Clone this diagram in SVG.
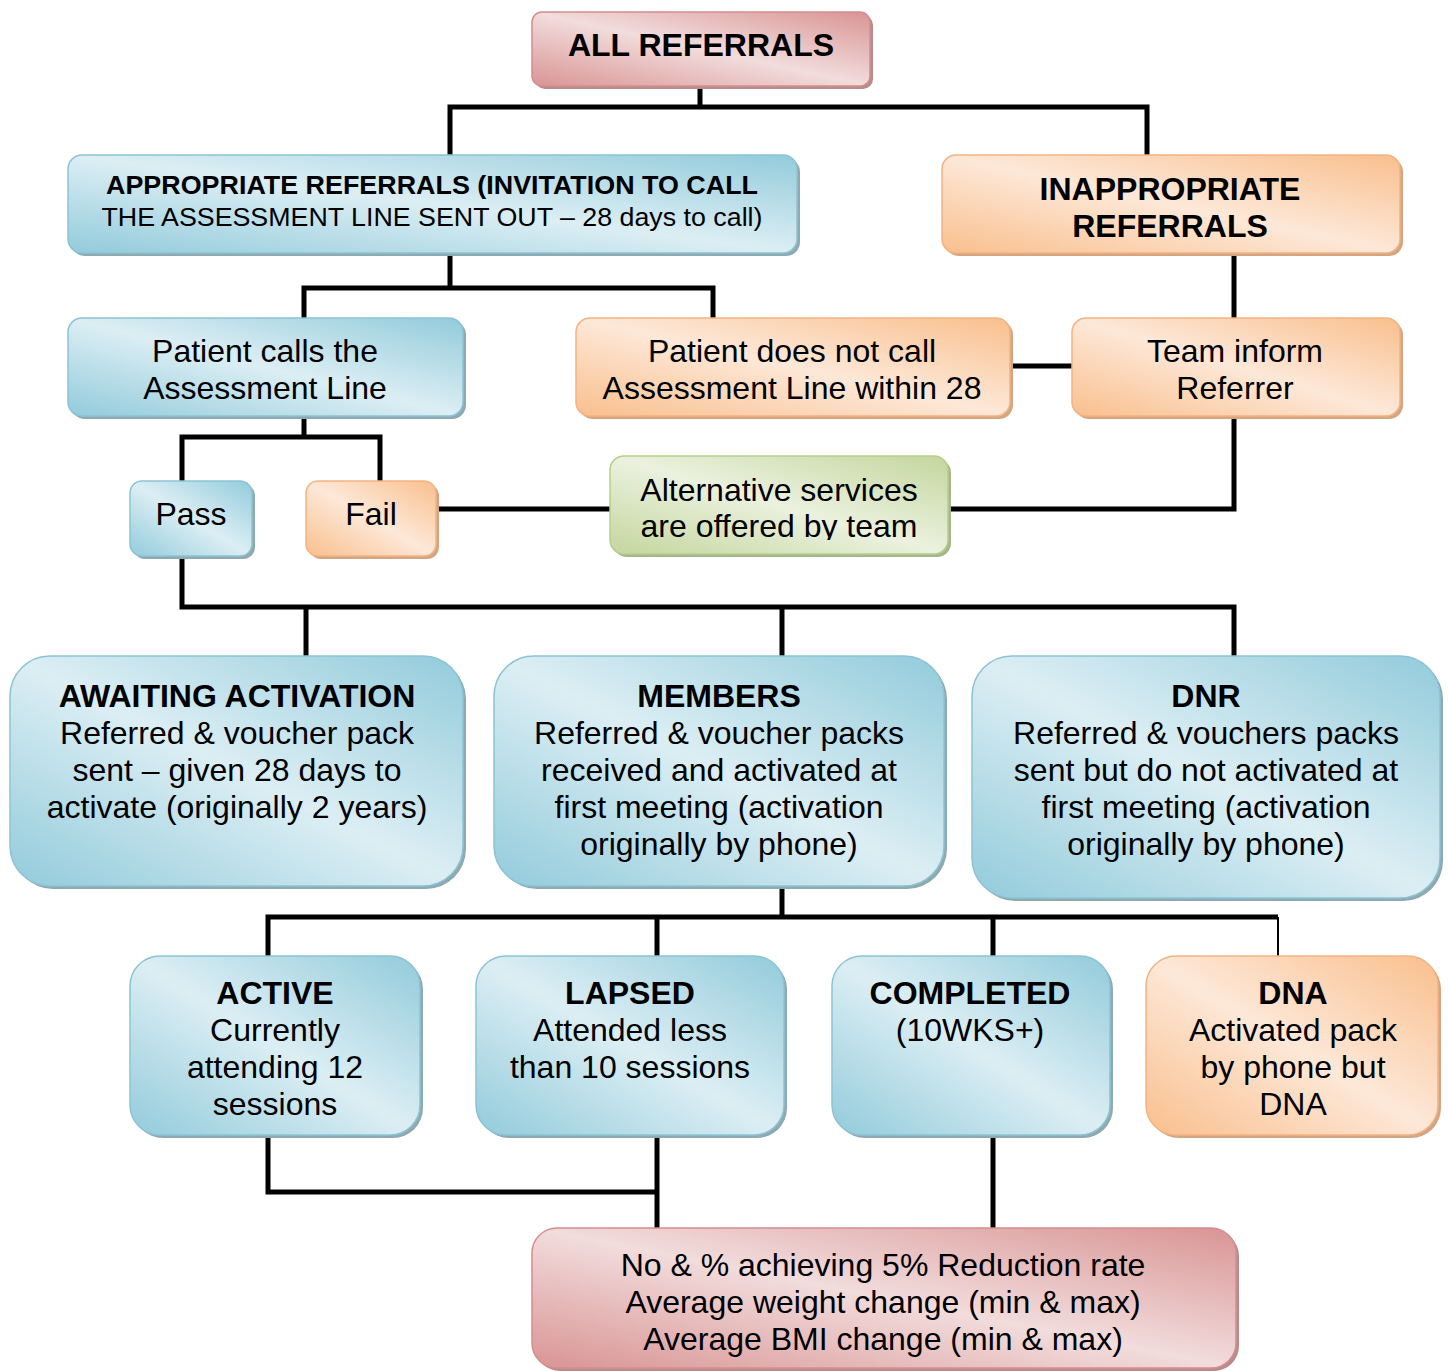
<svg xmlns="http://www.w3.org/2000/svg" width="1448" height="1371" viewBox="0 0 1448 1371">
<defs>
<linearGradient id="gBlue" x1="1" y1="0" x2="0" y2="1"><stop offset="0" stop-color="#92CBDB"/><stop offset="0.5" stop-color="#DCEEF4"/><stop offset="1" stop-color="#92CBDB"/></linearGradient>
<linearGradient id="gOrange" x1="1" y1="0" x2="0" y2="1"><stop offset="0" stop-color="#F9BF8D"/><stop offset="0.5" stop-color="#FDE8D8"/><stop offset="1" stop-color="#F9BF8D"/></linearGradient>
<linearGradient id="gPink" x1="1" y1="0" x2="0" y2="1"><stop offset="0" stop-color="#D99494"/><stop offset="0.5" stop-color="#F2DCDC"/><stop offset="1" stop-color="#D99494"/></linearGradient>
<linearGradient id="gGreen" x1="1" y1="0" x2="0" y2="1"><stop offset="0" stop-color="#C3D69D"/><stop offset="0.5" stop-color="#EBF1DE"/><stop offset="1" stop-color="#C3D69D"/></linearGradient>
<clipPath id="altClip"><rect x="600" y="440" width="360" height="100"/></clipPath>
</defs>
<style>
text{font-family:"Liberation Sans",Arial,sans-serif;font-size:32px;fill:#000;text-anchor:middle}
.b{font-weight:bold}
.s{font-size:26.7px}
.blue{fill:url(#gBlue);stroke:#8CC3D3;stroke-width:1.5}
.orange{fill:url(#gOrange);stroke:#F3B382;stroke-width:1.5}
.pink{fill:url(#gPink);stroke:#D58D8F;stroke-width:1.5}
.green{fill:url(#gGreen);stroke:#B8CE8E;stroke-width:1.5}
.shB{fill:#8FA9B2}
.shO{fill:#D3A583}
.shP{fill:#B98C8C}
.shG{fill:#A6B58C}
.ln{fill:none;stroke:#000;stroke-width:5;stroke-linejoin:miter}
.thin{fill:none;stroke:#000;stroke-width:2}
</style>
<rect width="1448" height="1371" fill="#fff"/>
<g id="connectors">
<path class="ln" d="M700,86 V107"/>
<path class="ln" d="M450,155 V107 H1147 V155"/>
<path class="ln" d="M450,253 V288"/>
<path class="ln" d="M304,318 V288 H713 V318"/>
<path class="ln" d="M1234,253 V318"/>
<path class="ln" d="M1010,366 H1072"/>
<path class="ln" d="M304,416 V437"/>
<path class="ln" d="M182,481 V437 H380 V481"/>
<path class="ln" d="M436,509 H610"/>
<path class="ln" d="M948,509 H1234 V416"/>
<path class="ln" d="M182,556 V607 H1234 V656"/>
<path class="ln" d="M306,607 V656"/>
<path class="ln" d="M782,607 V656"/>
<path class="ln" d="M782,886 V917"/>
<path class="ln" d="M268,956 V917 H1278"/>
<path class="ln" d="M657,917 V956"/>
<path class="ln" d="M993,917 V956"/>
<path class="thin" d="M1278,917 V956"/>
<path class="ln" d="M268,1135 V1192 H657"/>
<path class="ln" d="M657,1135 V1228"/>
<path class="ln" d="M993,1135 V1228"/>
</g>
<g id="n-all">
<rect class="shP" x="535" y="15" width="338" height="74" rx="10"/>
<rect class="pink" x="532" y="12" width="338" height="74" rx="10"/>
<text class="b" x="701" y="56">ALL REFERRALS</text>
</g>
<g id="n-appropriate">
<rect class="shB" x="71" y="158" width="729" height="98" rx="14"/>
<rect class="blue" x="68" y="155" width="729" height="98" rx="14"/>
<text class="b s" x="432" y="194" textLength="652" lengthAdjust="spacingAndGlyphs">APPROPRIATE REFERRALS (INVITATION TO CALL</text>
<text class="s" x="432" y="226" textLength="661" lengthAdjust="spacingAndGlyphs">THE ASSESSMENT LINE SENT OUT – 28 days to call)</text>
</g>
<g id="n-inappropriate">
<rect class="shO" x="945" y="158" width="458" height="98" rx="14"/>
<rect class="orange" x="942" y="155" width="458" height="98" rx="14"/>
<text class="b" x="1170" y="200">INAPPROPRIATE</text>
<text class="b" x="1170" y="237">REFERRALS</text>
</g>
<g id="n-calls">
<rect class="shB" x="71" y="321" width="395" height="98" rx="14"/>
<rect class="blue" x="68" y="318" width="395" height="98" rx="14"/>
<text x="265" y="362">Patient calls the</text>
<text x="265" y="399">Assessment Line</text>
</g>
<g id="n-notcall">
<rect class="shO" x="579" y="321" width="434" height="98" rx="14"/>
<rect class="orange" x="576" y="318" width="434" height="98" rx="14"/>
<text x="792" y="362">Patient does not call</text>
<text x="792" y="399">Assessment Line within 28</text>
</g>
<g id="n-team">
<rect class="shO" x="1075" y="321" width="328" height="98" rx="14"/>
<rect class="orange" x="1072" y="318" width="328" height="98" rx="14"/>
<text x="1235" y="362">Team inform</text>
<text x="1235" y="399">Referrer</text>
</g>
<g id="n-pass">
<rect class="shB" x="133" y="484" width="122" height="75" rx="12"/>
<rect class="blue" x="130" y="481" width="122" height="75" rx="12"/>
<text x="191" y="525">Pass</text>
</g>
<g id="n-fail">
<rect class="shO" x="309" y="484" width="130" height="75" rx="12"/>
<rect class="orange" x="306" y="481" width="130" height="75" rx="12"/>
<text x="371" y="525">Fail</text>
</g>
<g id="n-alternative">
<rect class="shG" x="613" y="459" width="338" height="98" rx="14"/>
<rect class="green" x="610" y="456" width="338" height="98" rx="14"/>
<text x="779" y="501">Alternative services</text>
<text x="779" y="537" clip-path="url(#altClip)">are offered by team</text>
</g>
<g id="n-awaiting">
<rect class="shB" x="13" y="659" width="453" height="230" rx="40"/>
<rect class="blue" x="10" y="656" width="453" height="230" rx="40"/>
<text class="b" x="237" y="707">AWAITING ACTIVATION</text>
<text x="237" y="744">Referred &amp; voucher pack</text>
<text x="237" y="781">sent – given 28 days to</text>
<text x="237" y="818">activate (originally 2 years)</text>
</g>
<g id="n-members">
<rect class="shB" x="497" y="659" width="450" height="230" rx="40"/>
<rect class="blue" x="494" y="656" width="450" height="230" rx="40"/>
<text class="b" x="719" y="707">MEMBERS</text>
<text x="719" y="744">Referred &amp; voucher packs</text>
<text x="719" y="781">received and activated at</text>
<text x="719" y="818">first meeting (activation</text>
<text x="719" y="855">originally by phone)</text>
</g>
<g id="n-dnr">
<rect class="shB" x="975" y="659" width="468" height="242" rx="40"/>
<rect class="blue" x="972" y="656" width="468" height="242" rx="40"/>
<text class="b" x="1206" y="707">DNR</text>
<text x="1206" y="744">Referred &amp; vouchers packs</text>
<text x="1206" y="781">sent but do not activated at</text>
<text x="1206" y="818">first meeting (activation</text>
<text x="1206" y="855">originally by phone)</text>
</g>
<g id="n-active">
<rect class="shB" x="133" y="959" width="290" height="179" rx="30"/>
<rect class="blue" x="130" y="956" width="290" height="179" rx="30"/>
<text class="b" x="275" y="1004">ACTIVE</text>
<text x="275" y="1041">Currently</text>
<text x="275" y="1078">attending 12</text>
<text x="275" y="1115">sessions</text>
</g>
<g id="n-lapsed">
<rect class="shB" x="479" y="959" width="308" height="179" rx="30"/>
<rect class="blue" x="476" y="956" width="308" height="179" rx="30"/>
<text class="b" x="630" y="1004">LAPSED</text>
<text x="630" y="1041">Attended less</text>
<text x="630" y="1078">than 10 sessions</text>
</g>
<g id="n-completed">
<rect class="shB" x="835" y="959" width="278" height="179" rx="30"/>
<rect class="blue" x="832" y="956" width="278" height="179" rx="30"/>
<text class="b" x="970" y="1004">COMPLETED</text>
<text x="970" y="1041">(10WKS+)</text>
</g>
<g id="n-dna">
<rect class="shO" x="1149" y="959" width="292" height="179" rx="30"/>
<rect class="orange" x="1146" y="956" width="292" height="179" rx="30"/>
<text class="b" x="1293" y="1004">DNA</text>
<text x="1293" y="1041">Activated pack</text>
<text x="1293" y="1078">by phone but</text>
<text x="1293" y="1115">DNA</text>
</g>
<g id="n-results">
<rect class="shP" x="535" y="1231" width="704" height="140" rx="25"/>
<rect class="pink" x="532" y="1228" width="704" height="140" rx="25"/>
<text x="883" y="1276">No &amp; % achieving 5% Reduction rate</text>
<text x="883" y="1313">Average weight change (min &amp; max)</text>
<text x="883" y="1350">Average BMI change (min &amp; max)</text>
</g>
</svg>
